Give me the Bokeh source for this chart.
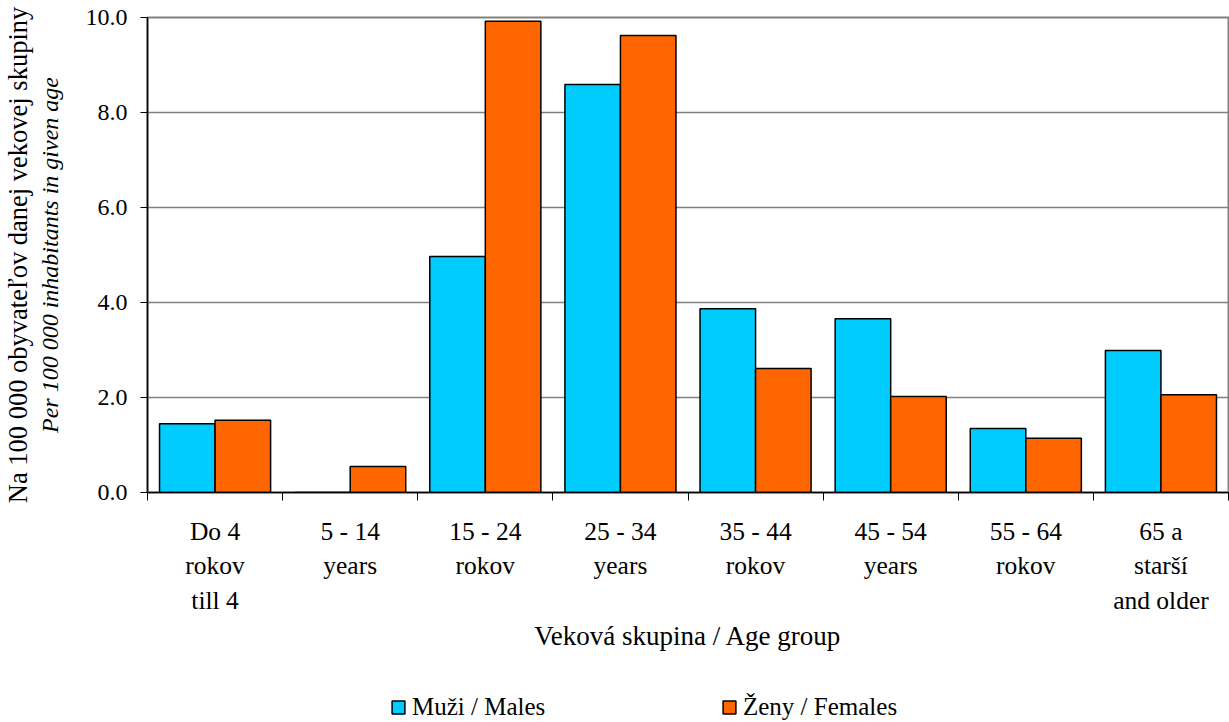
from bokeh.plotting import figure
from bokeh.layouts import column
from bokeh.models import (FixedTicker, NumeralTickFormatter, Range1d, Title,
                          Legend, LegendItem, ColumnDataSource)
from bokeh.embed import file_html
from bokeh.resources import INLINE

categories = ["Do 4\nrokov\ntill 4", "5 - 14\nyears", "15 - 24\nrokov", "25 - 34\nyears",
              "35 - 44\nrokov", "45 - 54\nyears", "55 - 64\nrokov", "65 a\nstarší\nand older"]
males = [1.45, 0.0, 4.97, 8.59, 3.87, 3.66, 1.35, 2.99]
females = [1.52, 0.55, 9.92, 9.62, 2.61, 2.02, 1.14, 2.06]
series_labels = ["Muži / Males", "Ženy / Females"]
y_ticks = [0, 2, 4, 6, 8, 10]

FONT = "Liberation Serif"
MALE_C = "#00CCFF"
FEMALE_C = "#FF6600"
BW = 0.411

n = len(categories)
centers = [i + 0.5 for i in range(n)]
bounds = list(range(n + 1))

p = figure(frame_width=1081, frame_height=475, min_border_left=146, min_border_top=17,
           min_border_right=1, min_border_bottom=175,
           x_range=Range1d(0, n), y_range=Range1d(0, 10),
           output_backend="svg", toolbar_location=None)
p.outline_line_color = "#808080"
p.outline_line_width = 2
p.background_fill_color = "white"
p.border_fill_color = "white"

src_m = ColumnDataSource(dict(x=[c - BW / 2 for c in centers], top=males))
src_f = ColumnDataSource(dict(x=[c + BW / 2 for c in centers], top=females))
rm = p.vbar(x="x", top="top", width=BW, bottom=0, source=src_m,
            fill_color=MALE_C, line_color="black", line_width=1.5)
rf = p.vbar(x="x", top="top", width=BW, bottom=0, source=src_f,
            fill_color=FEMALE_C, line_color="black", line_width=1.5)

# x axis
xa = p.xaxis[0]
xa.ticker = FixedTicker(ticks=centers, minor_ticks=bounds)
xa.major_label_overrides = {c: lab for c, lab in zip(centers, categories)}
xa.major_tick_line_color = None
xa.minor_tick_in = 0
xa.minor_tick_out = 8
xa.minor_tick_line_color = "black"
xa.axis_line_color = "black"
xa.axis_line_width = 1.5
xa.major_label_text_font = FONT
xa.major_label_text_font_size = "25.5px"
xa.major_label_text_color = "black"
xa.major_label_text_line_height = 1.2
xa.major_label_standoff = 16
xa.axis_label = "Veková skupina / Age group"
xa.axis_label_text_font = FONT
xa.axis_label_text_font_size = "27px"
xa.axis_label_text_font_style = "normal"
xa.axis_label_text_color = "black"
xa.axis_label_standoff = 3

# y axis
ya = p.yaxis[0]
ya.ticker = FixedTicker(ticks=y_ticks)
ya.formatter = NumeralTickFormatter(format="0.0")
ya.major_tick_in = 0
ya.major_tick_out = 7
ya.minor_tick_line_color = None
ya.axis_line_color = "black"
ya.axis_line_width = 1.5
ya.major_label_text_font = FONT
ya.major_label_text_font_size = "24px"
ya.major_label_text_color = "black"
ya.major_label_standoff = 13
ya.axis_label = "Per 100 000 inhabitants in given age"
ya.axis_label_text_font = FONT
ya.axis_label_text_font_size = "24px"
ya.axis_label_text_font_style = "italic"
ya.axis_label_text_color = "black"
ya.axis_label_standoff = 20

t = Title(text="Na 100 000 obyvateľov danej vekovej skupiny", align="center",
          text_font=FONT, text_font_size="26.5px", text_font_style="normal",
          text_color="black", standoff=1)
p.add_layout(t, "left")

p.xgrid.grid_line_color = None
p.ygrid.ticker = FixedTicker(ticks=[2, 4, 6, 8, 10])
p.ygrid.grid_line_color = "#808080"
p.ygrid.grid_line_width = 1.5

# legend figure below the chart
main_h = 17 + 475 + 175
leg = figure(frame_width=146 + 1081 + 1, frame_height=721 - main_h,
             min_border_left=0, min_border_right=0, min_border_top=0, min_border_bottom=0,
             x_range=Range1d(0, 1), y_range=Range1d(0, 1),
             x_axis_location=None, y_axis_location=None,
             output_backend="svg", toolbar_location=None)
leg.outline_line_color = None
leg.xgrid.grid_line_color = None
leg.ygrid.grid_line_color = None
# swatch renderers kept outside the visible range; only their legend glyphs show
lm = leg.vbar(x=[5], top=[5], width=0.1, fill_color=MALE_C, line_color="black", line_width=1.5)
lf = leg.vbar(x=[5], top=[5], width=0.1, fill_color=FEMALE_C, line_color="black", line_width=1.5)

for r, lab, xloc in [(lm, series_labels[0], 390), (lf, series_labels[1], 721)]:
    lg = Legend(items=[LegendItem(label=lab, renderers=[r])], location=(xloc, 0),
                orientation="horizontal", padding=0, margin=0, spacing=0,
                glyph_width=16, glyph_height=16, label_standoff=6,
                label_text_font=FONT, label_text_font_size="25px",
                label_text_color="black", border_line_color=None,
                background_fill_alpha=0)
    leg.add_layout(lg)

layout = column(p, leg, spacing=0)
open("out.html", "w").write(file_html(layout, INLINE))
